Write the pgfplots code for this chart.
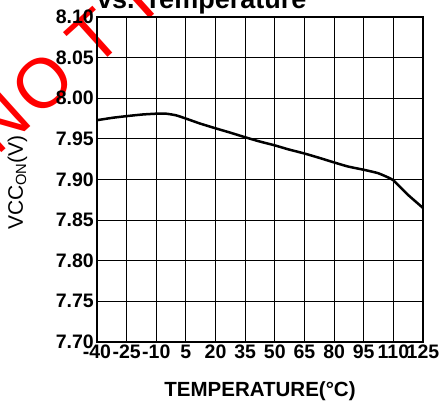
\documentclass[border=0pt]{standalone}
\usepackage{fontspec}
\setmainfont{Liberation Sans}
\usepackage{pgfplots}
\pgfplotsset{compat=1.18}
\begin{document}
\begin{tikzpicture}
% watermark (drawn first, under the chart)
\begin{scope}[every node/.style={text=red, rotate=42, inner sep=0pt, font=\fontsize{70}{70}\selectfont}]
\node[anchor=center] at (-97pt,220pt) {N};
\node[anchor=center] at (-54pt,259pt) {O};
\node[anchor=base] at (13pt,287pt) {T};
\node[anchor=base west] at (48pt,319pt) {RECOMMENDED};
\end{scope}
\begin{axis}[name=ax, at={(0,0)}, anchor=south west,
  scale only axis, width=326pt, height=325pt,
  xmin=-40, xmax=125, ymin=7.70, ymax=8.10,
  xtick={-40,-25,-10,5,20,35,50,65,80,95,110,125},
  xticklabels={-40,-25,-10,5,20,35,50,65,80,95,110,125},
  ytick={7.70,7.75,7.80,7.85,7.90,7.95,8.00,8.05,8.10},
  yticklabels={7.70,7.75,7.80,7.85,7.90,7.95,8.00,8.05,8.10},
  grid=major, major grid style={black, line width=1.0pt},
  axis line style={black, line width=1.9pt},
  major tick length=0pt,
  tick label style={font=\fontsize{19.5}{19.5}\selectfont\bfseries},
  xticklabel style={inner sep=0pt, anchor=north, yshift=-3pt},
  yticklabel style={inner sep=0pt, anchor=east, xshift=-3pt},
  xlabel={TEMPERATURE(°C)},
  xlabel style={at={(axis description cs:0.5,0)}, anchor=north, yshift=-39pt, inner sep=0pt, font=\fontsize{20.5}{20.5}\selectfont\bfseries},
  clip=false,
]
\addplot[black, line width=2.5pt, smooth, tension=0.3] coordinates {
(-40,7.973) (-32,7.976) (-25,7.978) (-17,7.980) (-10,7.981) (-5,7.981)
(0,7.979) (5,7.975) (12,7.969) (20,7.963) (27,7.958) (35,7.952)
(42,7.947) (50,7.942) (57,7.937) (65,7.932) (72,7.927) (80,7.921)
(87,7.916) (95,7.912) (102,7.908) (106,7.904) (110,7.899) (117,7.882) (125,7.865)
};
\end{axis}
\node[rotate=90, anchor=base, inner sep=0pt, font=\fontsize{21}{21}\selectfont] at (-74pt,159.5pt) {VCC\textsubscript{ON}(V)};
\node[anchor=base west, inner sep=0pt, font=\fontsize{27}{27}\selectfont\bfseries] at (0pt,333pt) {vs. Temperature};
\pgfresetboundingbox
\path[use as bounding box] (-97pt,-60pt) rectangle (346pt,342pt);
\end{tikzpicture}
\end{document}
